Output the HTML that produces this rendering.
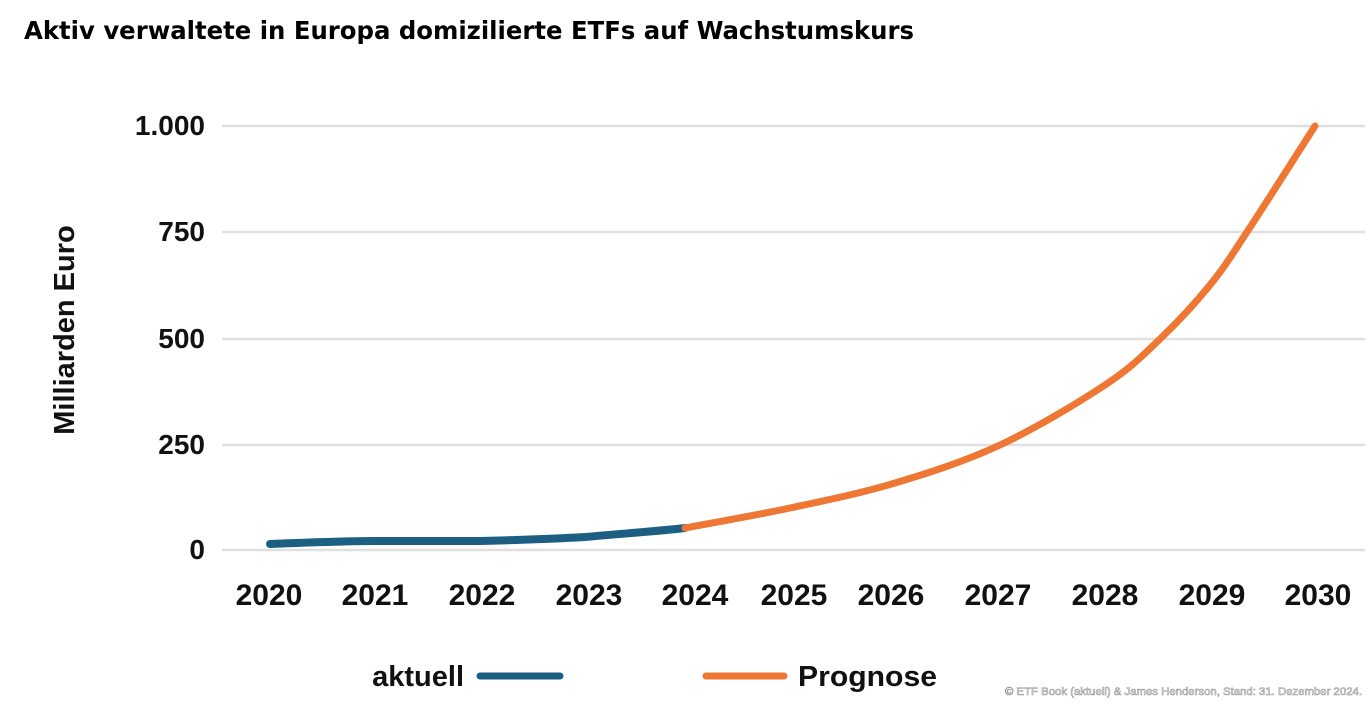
<!DOCTYPE html>
<html><head><meta charset="utf-8"><style>
body{margin:0;background:#fff;width:1372px;height:704px;overflow:hidden}
svg text{font-family:"Liberation Sans",Arial,sans-serif}
</style></head><body>
<svg width="1372" height="704" viewBox="0 0 1372 704">
<text x="24" y="39" font-size="25" font-weight="bold" fill="#000" style="font-family:'DejaVu Sans Condensed','Liberation Sans',sans-serif" textLength="890" lengthAdjust="spacingAndGlyphs">Aktiv verwaltete in Europa domizilierte ETFs auf Wachstumskurs</text>
<g stroke="#e0e0e0" stroke-width="2.5">
<line x1="222" y1="126" x2="1365" y2="126"/>
<line x1="222" y1="232" x2="1365" y2="232"/>
<line x1="222" y1="339" x2="1365" y2="339"/>
<line x1="222" y1="445" x2="1365" y2="445"/>
<line x1="222" y1="550" x2="1365" y2="550"/>
</g>
<g font-size="28" font-weight="bold" fill="#111" text-anchor="end">
<text x="205" y="135">1.000</text>
<text x="205" y="241">750</text>
<text x="205" y="348">500</text>
<text x="205" y="454">250</text>
<text x="205" y="559">0</text>
</g>
<text transform="translate(74,330) rotate(-90)" font-size="29" font-weight="bold" fill="#111" text-anchor="middle">Milliarden Euro</text>
<g font-size="30" font-weight="bold" fill="#111" text-anchor="middle">
<text x="269" y="605">2020</text><text x="375" y="605">2021</text><text x="482" y="605">2022</text>
<text x="589" y="605">2023</text><text x="695" y="605">2024</text><text x="794" y="605">2025</text>
<text x="891" y="605">2026</text><text x="998" y="605">2027</text><text x="1105" y="605">2028</text>
<text x="1212" y="605">2029</text><text x="1318" y="605">2030</text>
</g>
<path d="M270,544 C320,542 360,541 375,541 C420,541 450,541 480,541 C520,540 550,539 585,537 C630,533 660,531 685,528" fill="none" stroke="#1c5f82" stroke-width="8" stroke-linecap="round"/>
<path d="M685,528 C702.5,524.7 755,515.5 790,508 C825,500.5 860,493.5 895,483 C930,472.5 965,461.3 1000,445 C1035,428.7 1078.3,402.7 1105,385 C1131.7,367.3 1142.5,355.7 1160,339 C1177.5,322.3 1195.5,302.8 1210,285 C1224.5,267.2 1229.5,258.5 1247,232 C1264.5,205.5 1303.7,143.7 1315,126" fill="none" stroke="#ee7733" stroke-width="7" stroke-linecap="round"/>
<text x="464" y="686" font-size="29" font-weight="bold" fill="#111" text-anchor="end">aktuell</text>
<line x1="480" y1="676" x2="560" y2="676" stroke="#1c5f82" stroke-width="7" stroke-linecap="round"/>
<line x1="706" y1="676" x2="784" y2="676" stroke="#ee7733" stroke-width="7" stroke-linecap="round"/>
<text x="798" y="686" font-size="29" font-weight="bold" fill="#111" textLength="139" lengthAdjust="spacingAndGlyphs">Prognose</text>
<text x="1005" y="695" font-size="11" fill="#fff" stroke="#999" stroke-width="0.6" textLength="357" lengthAdjust="spacingAndGlyphs">© ETF Book (aktuell) &amp; James Henderson, Stand: 31. Dezember 2024.</text>
</svg>
</body></html>
